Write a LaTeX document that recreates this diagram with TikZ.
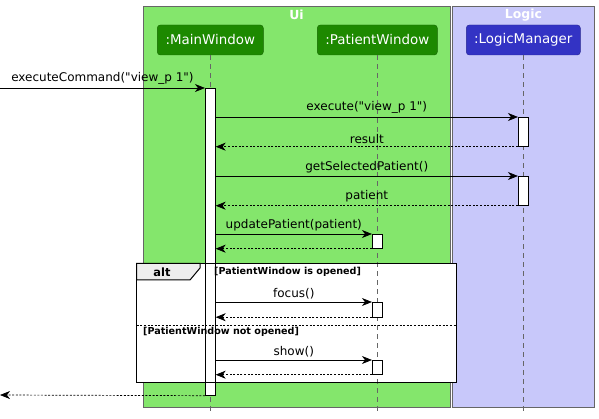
\documentclass[tikz,border=0pt]{standalone}
\usepackage{fontspec}
\setmainfont{DejaVu Sans}[Ligatures=TeXOff]
\usepackage{xcolor}
\usepackage{tikz}
\usetikzlibrary{arrows.meta}

\definecolor{uiColor}{HTML}{1D8900}
\definecolor{uiBack}{HTML}{84E66C}
\definecolor{logicColor}{HTML}{3333C4}
\definecolor{logicBack}{HTML}{C8C8FA}
\definecolor{tabGray}{HTML}{EEEEEE}

\begin{document}
\begin{tikzpicture}[x=1pt, y=-1pt, >={Stealth[length=10pt, width=8pt, inset=3pt]},
        groupbox/.style={draw=black!60, line width=0.8pt},
        grouplabel/.style={text=white, font=\fontsize{12.5}{14}\selectfont\bfseries},
        participant/.style={draw=#1!75!black, fill=#1, rounded corners=3pt, text=white, minimum height=30pt, inner sep=0pt, font=\fontsize{13.4}{15}\selectfont},
        lifeline/.style={draw=black!60, dash pattern=on 5pt off 4pt, line width=0.6pt},
        activation/.style={draw, fill=white, minimum width=10pt, inner sep=0pt, anchor=north, line width=0.7pt},
        call/.style={->, line width=0.7pt},
        ret/.style={->, line width=0.7pt, dash pattern=on 2pt off 1.6pt},
        msg/.style={above, inner sep=3pt, font=\fontsize{12}{14}\selectfont},
        guard/.style={anchor=west, inner sep=0pt, font=\fontsize{9.6}{11}\selectfont\bfseries},
        altframe/.style={draw, line width=1.3pt}]
            \useasboundingbox (0,0) rectangle (599,419);

            % Boxes for Ui and Logic
            \draw[groupbox, fill=uiBack] (143,6) rectangle (450.7,407);
            \node[grouplabel] (UiTitle) at (296.5,15) {Ui};
            \draw[groupbox, fill=logicBack] (452.3,6) rectangle (594.7,407);
            \node[grouplabel] (LogicTitle) at (523.5,15) {Logic};

            % Participants
            \node[participant=uiColor, minimum width=106pt] (MainWindow) at (210.3,40) {:MainWindow};
            \node[participant=uiColor, minimum width=120pt] (PatientWindow) at (377.3,40) {:PatientWindow};
            \node[participant=logicColor, minimum width=114pt] (LogicManager) at (523.3,40) {:LogicManager};

            % Alt frame background
            \fill[white] (136.7,263.3) rectangle (456.7,382.3);

            % Lifelines
            \foreach \p in {MainWindow,PatientWindow,LogicManager}
            {
                \draw[lifeline] (\p) -- (\p |- 0,412);
            }

            % Activations
            \node[activation, minimum height=307pt] (MainAct) at (MainWindow |- 0,88) {};
            \node[activation, minimum height=29pt] (LogicAct1) at (LogicManager |- 0,117) {};
            \node[activation, minimum height=29pt] (LogicAct2) at (LogicManager |- 0,176) {};
            \node[activation, minimum height=14pt] (PatientAct1) at (PatientWindow |- 0,234) {};
            \node[activation, minimum height=14.5pt] (PatientAct2) at (PatientWindow |- 0,302) {};
            \node[activation, minimum height=14pt] (PatientAct3) at (PatientWindow |- 0,360) {};

            % Messages
            \coordinate (Caller) at (0,88);
            \coordinate (CallerBack) at (0,395);
            \draw[call] (Caller) -- node[msg] {executeCommand("view\_p 1")} (MainAct.north west);
            \draw[call] (MainAct.east |- LogicAct1.north) -- node[msg] {execute("view\_p 1")} (LogicAct1.north west);
            \draw[ret] (LogicAct1.south west) -- node[msg] {result} (MainAct.east |- LogicAct1.south);
            \draw[call] (MainAct.east |- LogicAct2.north) -- node[msg] {getSelectedPatient()} (LogicAct2.north west);
            \draw[ret] (LogicAct2.south west) -- node[msg] {patient} (MainAct.east |- LogicAct2.south);
            \draw[call] (MainAct.east |- PatientAct1.north) -- node[msg] {updatePatient(patient)} (PatientAct1.north west);
            \draw[ret] (PatientAct1.south west) -- (MainAct.east |- PatientAct1.south);
            \draw[call] (MainAct.east |- PatientAct2.north) -- node[msg] {focus()} (PatientAct2.north west);
            \draw[ret] (PatientAct2.south west) -- (MainAct.east |- PatientAct2.south);
            \draw[call] (MainAct.east |- PatientAct3.north) -- node[msg] {show()} (PatientAct3.north west);
            \draw[ret] (PatientAct3.south west) -- (MainAct.east |- PatientAct3.south);
            \draw[ret] (MainAct.south west) -- (CallerBack);

            % Alt frame
            \draw[altframe] (136.7,263.3) rectangle (456.7,382.3);
            \draw[altframe, line width=1pt, fill=tabGray] (136.7,263.3) -- (200,263.3) -- (200,268) -- (190,280) -- (136.7,280) -- cycle;
            \node[font=\fontsize{11.4}{13}\selectfont\bfseries] (AltLabel) at (162,272) {alt};
            \node[guard] (GuardOpened) at (214,272) {[PatientWindow is opened]};
            \draw[dash pattern=on 2pt off 1.6pt, line width=0.6pt] (136.7,325) -- (456.7,325);
            \node[guard] (GuardNotOpened) at (143,332) {[PatientWindow not opened]};

        \end{tikzpicture}
\end{document}
